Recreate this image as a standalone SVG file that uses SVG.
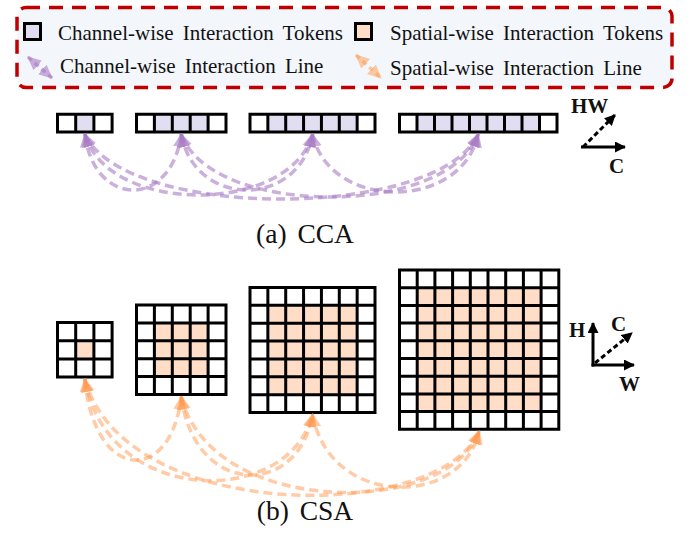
<svg xmlns="http://www.w3.org/2000/svg" width="699" height="544" viewBox="0 0 699 544">
  <style>
    .txt { font-family: "Liberation Serif", "Times New Roman", serif; fill: #111; }
    .leg { font-size: 21px; word-spacing: 4px; }
    .cap { font-size: 27.5px; word-spacing: 4px; }
    .axl { font-size: 21px; font-weight: bold; }
    .grid { fill: none; stroke: #000; stroke-width: 3; stroke-linecap: square; }
    .cfill { fill: #E1DEF2; }
    .sfill { fill: #FFDDC6; }
    .cline { fill: none; stroke: #A87BC4; stroke-opacity: 0.6; stroke-width: 3.5; stroke-dasharray: 9 5; marker-start: url(#hp); marker-end: url(#hp); }
    .sline { fill: none; stroke: #FF9A50; stroke-opacity: 0.5; stroke-width: 3.5; stroke-dasharray: 9 5; marker-start: url(#ho); marker-end: url(#ho); }
    .ax { fill: none; stroke: #000; stroke-width: 3; marker-end: url(#ha); }
    .axd { stroke-dasharray: 5 3; }
  </style>
  <defs>
    <marker id="hp" viewBox="0 0 14 14" refX="13" refY="7" markerWidth="14" markerHeight="14" markerUnits="userSpaceOnUse" orient="auto-start-reverse">
      <path d="M0,0.5 L14,7 L0,13.5 z" fill="#A87BC4" fill-opacity="0.6"/>
    </marker>
    <marker id="ho" viewBox="0 0 14 14" refX="13" refY="7" markerWidth="14" markerHeight="14" markerUnits="userSpaceOnUse" orient="auto-start-reverse">
      <path d="M0,0.5 L14,7 L0,13.5 z" fill="#FF9A50" fill-opacity="0.5"/>
    </marker>
    <marker id="ha" viewBox="0 0 11 11" refX="10" refY="5.5" markerWidth="11" markerHeight="11" markerUnits="userSpaceOnUse" orient="auto">
      <path d="M0,0 L11,5.5 L0,11 z" fill="#000"/>
    </marker>
  </defs>

  <rect width="699" height="544" fill="#fff"/>

  <!-- legend -->
  <g id="legend">
    <rect x="17" y="7.5" width="655" height="80" rx="9" fill="#F3F6FA" stroke="#C00000" stroke-width="3.5" stroke-dasharray="14 9"/>
    <rect x="24.5" y="23.5" width="16" height="16" class="cfill" stroke="#000" stroke-width="3"/>
    <text class="txt leg" x="58" y="39.5">Channel-wise Interaction Tokens</text>
    <path class="cline" d="M28,57 L52,78" style="stroke-dasharray:5 4"/>
    <text class="txt leg" x="60" y="73">Channel-wise Interaction Line</text>
    <rect x="355.5" y="23.5" width="16" height="16" class="sfill" stroke="#000" stroke-width="3"/>
    <text class="txt leg" x="390" y="39.5">Spatial-wise Interaction Tokens</text>
    <path class="sline" d="M356,55 L381,78" style="stroke-dasharray:5 4"/>
    <text class="txt leg" x="390" y="75">Spatial-wise Interaction Line</text>
  </g>

  <!-- channel-wise token rows -->
  <g id="cca-row1">
    <rect class="cfill" x="75.7" y="114.2" width="18.2" height="17.8"/>
    <path class="grid" d="M57.5 114.2H112.1M57.5 132H112.1M57.5 114.2V132M75.7 114.2V132M93.9 114.2V132M112.1 114.2V132"/>
  </g>
  <g id="cca-row2">
    <rect class="cfill" x="154.4" y="114.2" width="53.7" height="17.8"/>
    <path class="grid" d="M136.5 114.2H226M136.5 132H226M136.5 114.2V132M154.4 114.2V132M172.3 114.2V132M190.2 114.2V132M208.1 114.2V132M226 114.2V132"/>
  </g>
  <g id="cca-row3">
    <rect class="cfill" x="267.86" y="114.2" width="89.28" height="17.8"/>
    <path class="grid" d="M250 114.2H375M250 132H375M250 114.2V132M267.86 114.2V132M285.71 114.2V132M303.57 114.2V132M321.43 114.2V132M339.29 114.2V132M357.14 114.2V132M375 114.2V132"/>
  </g>
  <g id="cca-row4">
    <rect class="cfill" x="417" y="114.2" width="122.5" height="17.8"/>
    <path class="grid" d="M399.5 114.2H557M399.5 132H557M399.5 114.2V132M417 114.2V132M434.5 114.2V132M452 114.2V132M469.5 114.2V132M487 114.2V132M504.5 114.2V132M522 114.2V132M539.5 114.2V132M557 114.2V132"/>
  </g>

  <!-- channel-wise axes -->
  <g id="cca-axes">
    <path class="ax axd" d="M583,147 L615,115"/>
    <path class="ax" d="M581,147 L625,147"/>
    <text class="txt axl" x="571" y="113">HW</text>
    <text class="txt axl" x="609" y="173">C</text>
  </g>

  <text id="cca-caption" class="txt cap" x="305" y="243" text-anchor="middle">(a) CCA</text>

  <!-- spatial-wise token grids -->
  <g id="csa-grid1">
    <rect class="sfill" x="75.7" y="340.7" width="18.2" height="18.2"/>
    <path class="grid" d="M57.5 322.5H112.1M57.5 340.7H112.1M57.5 358.9H112.1M57.5 377.1H112.1M57.5 322.5V377.1M75.7 322.5V377.1M93.9 322.5V377.1M112.1 322.5V377.1"/>
  </g>
  <g id="csa-grid2">
    <rect class="sfill" x="154.4" y="322.9" width="53.7" height="53.7"/>
    <path class="grid" d="M136.5 305H226M136.5 322.9H226M136.5 340.8H226M136.5 358.7H226M136.5 376.6H226M136.5 394.5H226M136.5 305V394.5M154.4 305V394.5M172.3 305V394.5M190.2 305V394.5M208.1 305V394.5M226 305V394.5"/>
  </g>
  <g id="csa-grid3">
    <rect class="sfill" x="267.86" y="305.36" width="89.28" height="89.28"/>
    <path class="grid" d="M250 287.5H375M250 305.36H375M250 323.21H375M250 341.07H375M250 358.93H375M250 376.79H375M250 394.64H375M250 412.5H375M250 287.5V412.5M267.86 287.5V412.5M285.71 287.5V412.5M303.57 287.5V412.5M321.43 287.5V412.5M339.29 287.5V412.5M357.14 287.5V412.5M375 287.5V412.5"/>
  </g>
  <g id="csa-grid4">
    <rect class="sfill" x="417.2" y="287.7" width="123.9" height="123.9"/>
    <path class="grid" d="M399.5 270H558.8M399.5 287.7H558.8M399.5 305.4H558.8M399.5 323.1H558.8M399.5 340.8H558.8M399.5 358.5H558.8M399.5 376.2H558.8M399.5 393.9H558.8M399.5 411.6H558.8M399.5 429.3H558.8M399.5 270V429.3M417.2 270V429.3M434.9 270V429.3M452.6 270V429.3M470.3 270V429.3M488 270V429.3M505.7 270V429.3M523.4 270V429.3M541.1 270V429.3M558.8 270V429.3"/>
  </g>

  <!-- spatial-wise axes -->
  <g id="csa-axes">
    <path class="ax axd" d="M595,363 L632,333"/>
    <path class="ax" d="M593,366.5 L593,323"/>
    <path class="ax" d="M591.5,365 L634,365"/>
    <text class="txt axl" x="569" y="337">H</text>
    <text class="txt axl" x="611" y="331">C</text>
    <text class="txt axl" x="619" y="391">W</text>
  </g>

  <text id="csa-caption" class="txt cap" x="305" y="520" text-anchor="middle">(b) CSA</text>

  <!-- interaction lines -->
  <g id="connectors">
    <path class="cline" d="M84.8,134 C94.4,208.7 171.6,208.7 181.25,134"/>
    <path class="cline" d="M84.8,134 C107.6,215.3 289.7,215.3 312.5,134"/>
    <path class="cline" d="M84.8,134 C124.2,220.7 438.9,220.7 478.25,134"/>
    <path class="cline" d="M181.25,134 C194.4,208.7 299.4,208.7 312.5,134"/>
    <path class="cline" d="M181.25,134 C211,218 448.5,218 478.25,134"/>
    <path class="cline" d="M312.5,134 C329.1,211.3 461.7,211.3 478.25,134"/>

    <path class="sline" d="M84.8,379 C94.4,484 171.6,484 181.25,396.5"/>
    <path class="sline" d="M84.8,379 C107.6,508 289.7,508 312.5,414"/>
    <path class="sline" d="M84.8,379 C124.2,524 439.7,524 479.15,431"/>
    <path class="sline" d="M181.25,396.5 C194.4,498 299.4,498 312.5,414"/>
    <path class="sline" d="M181.25,396.5 C211,518 449.4,518 479.15,431"/>
    <path class="sline" d="M312.5,414 C329,508.5 462.5,508.5 479.15,431"/>
  </g>
</svg>
